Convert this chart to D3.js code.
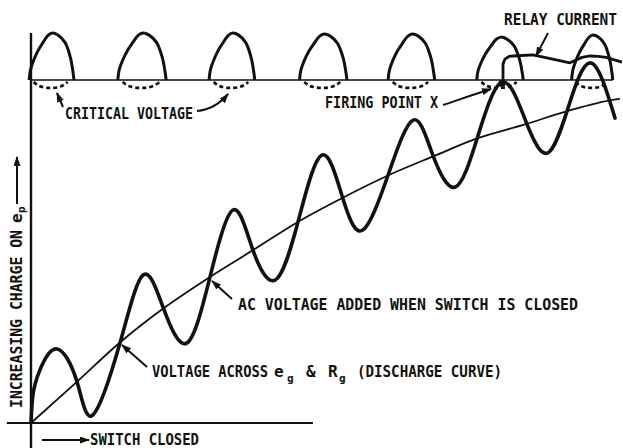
<!DOCTYPE html>
<html>
<head>
<meta charset="utf-8">
<script src="https://cdn.jsdelivr.net/npm/d3@7"></script>
<style>
  html, body { margin: 0; padding: 0; background: #fff; }
  svg { display: block; }
  .lbl { font-family: "DejaVu Sans Mono", "Liberation Mono", monospace; font-weight: bold; font-size: 16px; fill: #111; }
  .sub { font-size: 11px; }
</style>
</head>
<body>
<svg id="chart" width="623" height="448"></svg>
<script>
// Horizontal: time in AC cycles after the switch closes.
// Vertical: charge on e_p in arbitrary units; 100 = plate-voltage reference line.

// Positive half-cycles of the plate voltage (one arch per cycle)
const humpStarts  = [-0.02, 0.97, 1.99, 3.00, 3.99, 4.98, 6.04];
const humpEnds    = [ 0.48, 1.51, 2.50, 3.53, 4.51, 5.50, 6.50];
const humpHeights = [13.7, 13.7, 13.7, 13.4, 13.4, 12.5, 13.1];
// arch outline: [fraction across the half-cycle, fraction of arch height]
const humpProfile = [[0,0],[0.03,0.22],[0.1,0.42],[0.2,0.63],[0.31,0.8],[0.42,0.95],[0.52,1],
                     [0.64,0.96],[0.8,0.8],[0.92,0.48],[0.98,0.16],[1,0]];
// dashed critical-voltage dip under each arch: [fraction across, depth below line]
const criticalDip = [[0.1,-0.6],[0.2,-1.6],[0.35,-2.2],[0.5,-2.3],[0.65,-2.1],[0.78,-1.4],[0.86,-0.6]];

// Discharge curve across e_g & R_g
const dischargeT = [0, 0.5, 1, 1.5, 2, 2.5, 3, 3.5, 4, 4.5, 5, 5.5, 6, 6.5, 6.58];
const dischargeV = [0, 11.7, 23.6, 33.8, 42.6, 50.7, 58.9, 65.9, 72.3, 77.8, 83.1, 86.9, 91.0, 94.2, 94.5];

// Discharge curve with the AC voltage added
const waveT = [0, 0.022, 0.1, 0.29, 0.514, 0.69, 0.994, 1.25, 1.475, 1.74, 2.0, 2.257, 2.48, 2.73,
               2.98, 3.25, 3.49, 3.71, 3.99, 4.27, 4.49, 4.74, 4.99, 5.27, 5.54, 5.77, 5.99, 6.25, 6.525];
const waveV = [0, 8.2, 15.5, 21.6, 12.0, 2.3, 23.3, 43.1, 33.8, 23.3, 42.6, 62.1, 50.4, 41.7,
               58.3, 78.1, 65.0, 56.3, 72.3, 88.3, 78.1, 68.8, 83.4, 99.4, 87.2, 78.7, 91.0, 105.0, 88.9];

// Relay current after firing
const relayT = [5.274, 5.274, 5.296, 5.341, 5.385, 5.609, 6.022, 6.078, 6.156, 6.246, 6.335, 6.425, 6.603];
const relayV = [99.1, 104.7, 106.1, 106.9, 107.0, 107.3, 105.0, 105.7, 106.6, 107.0, 106.9, 106.6, 105.2];

const firingPoint = [5.262, 99.0];

const svg = d3.select("#chart");
const x = d3.scaleLinear().domain([0, 6.5]).range([31, 612.75]);
const y = d3.scaleLinear().domain([0, 100]).range([423, 80]);

const ink = "#111";

// arrowhead
svg.append("defs").append("marker")
  .attr("id", "head").attr("markerUnits", "userSpaceOnUse")
  .attr("markerWidth", 11).attr("markerHeight", 8)
  .attr("refX", 9).attr("refY", 3.5).attr("orient", "auto")
  .append("path").attr("d", "M0,0 L10,3.5 L0,7 Z").attr("fill", ink);

// axes
svg.append("line")
  .attr("x1", x(0)).attr("x2", x(0)).attr("y1", y(113.7)).attr("y2", y(-7.5))
  .attr("stroke", ink).attr("stroke-width", 2.4);
svg.append("line")
  .attr("x1", x(-0.27)).attr("x2", x(3.15)).attr("y1", y(0)).attr("y2", y(0))
  .attr("stroke", ink).attr("stroke-width", 2);
// reference line of the plate voltage
svg.append("line")
  .attr("x1", x(0)).attr("x2", x(6.5)).attr("y1", y(100)).attr("y2", y(100))
  .attr("stroke", ink).attr("stroke-width", 1.7);

// arches
const humpLine = d3.line().curve(d3.curveCatmullRom.alpha(0.5));
humpStarts.forEach((s, i) => {
  const e = humpEnds[i], h = humpHeights[i];
  svg.append("path")
    .attr("d", humpLine(humpProfile.map(([p, f]) => [x(s + p * (e - s)), y(100 + f * h)])))
    .attr("fill", "none").attr("stroke", ink).attr("stroke-width", 3)
    .attr("stroke-linejoin", "round");
  svg.append("path")
    .attr("d", humpLine(criticalDip.map(([p, d]) => [x(s + p * (e - s)), y(100 + d)])))
    .attr("fill", "none").attr("stroke", ink).attr("stroke-width", 2.6)
    .attr("stroke-dasharray", "4,3");
});

// discharge curve
svg.append("path")
  .attr("d", d3.line().curve(d3.curveMonotoneX)(dischargeT.map((t, i) => [x(t), y(dischargeV[i])])))
  .attr("fill", "none").attr("stroke", ink).attr("stroke-width", 1.8);

// AC + discharge
svg.append("path")
  .attr("d", d3.line().curve(d3.curveNatural)(waveT.map((t, i) => [x(t), y(waveV[i])])))
  .attr("fill", "none").attr("stroke", ink).attr("stroke-width", 3.6)
  .attr("stroke-linecap", "round");

// relay current
svg.append("path")
  .attr("d", d3.line()(relayT.map((t, i) => [x(t), y(relayV[i])])))
  .attr("fill", "none").attr("stroke", ink).attr("stroke-width", 2.8)
  .attr("stroke-linejoin", "round");

// firing point
svg.append("circle")
  .attr("cx", x(firingPoint[0])).attr("cy", y(firingPoint[1])).attr("r", 3.6).attr("fill", ink);

// labels
function label(txt, x0, x1, base, size) {
  return svg.append("text").attr("class", "lbl")
    .style("font-size", (size || 16) + "px")
    .attr("x", x0).attr("y", base)
    .attr("textLength", x1 - x0).attr("lengthAdjust", "spacingAndGlyphs")
    .text(txt);
}
function arrow(d) {
  svg.append("path").attr("d", d).attr("fill", "none").attr("stroke", ink)
    .attr("stroke-width", 2).attr("marker-end", "url(#head)");
}

label("CRITICAL VOLTAGE", 65, 193, 119);
arrow("M63,107 L57,93");
arrow("M197,111 C207,110 218,106 228,94");

label("FIRING POINT X", 325, 438, 108);
arrow("M443,105 C458,100 472,95 491,89");

label("RELAY CURRENT", 504, 617, 25, 15);
arrow("M548,33 L536,56");

label("AC VOLTAGE ADDED WHEN SWITCH IS CLOSED", 238, 578, 310);
arrow("M232,299 L212,281");

// "VOLTAGE ACROSS e_g & R_g (DISCHARGE CURVE)" with subscripts
const va = svg.append("text").attr("class", "lbl").attr("y", 377);
va.append("tspan").attr("x", 152).attr("textLength", 116).attr("lengthAdjust", "spacingAndGlyphs").text("VOLTAGE ACROSS");
va.append("tspan").attr("x", 274).text("e");
va.append("tspan").attr("class", "sub").attr("x", 287).attr("dy", 5).text("g");
va.append("tspan").attr("x", 306).attr("dy", -5).text("&");
va.append("tspan").attr("x", 328).text("R");
va.append("tspan").attr("class", "sub").attr("x", 339).attr("dy", 5).text("g");
va.append("tspan").attr("x", 357).attr("dy", -5).attr("textLength", 145).attr("lengthAdjust", "spacingAndGlyphs").text("(DISCHARGE CURVE)");
arrow("M147,367 L122,345");

label("SWITCH CLOSED", 90, 199, 445);
arrow("M42,440 L89,440");

// vertical axis title
const yt = svg.append("text").attr("class", "lbl").attr("transform", "translate(22,408) rotate(-90)");
yt.append("tspan").attr("x", 0).attr("y", 0)
  .attr("textLength", 178).attr("lengthAdjust", "spacingAndGlyphs").text("INCREASING CHARGE ON");
yt.append("tspan").attr("x", 185).text("e");
yt.append("tspan").attr("class", "sub").attr("x", 195).attr("dy", 3).text("p");
arrow("M17,204 L17,157");
</script>
</body>
</html>
